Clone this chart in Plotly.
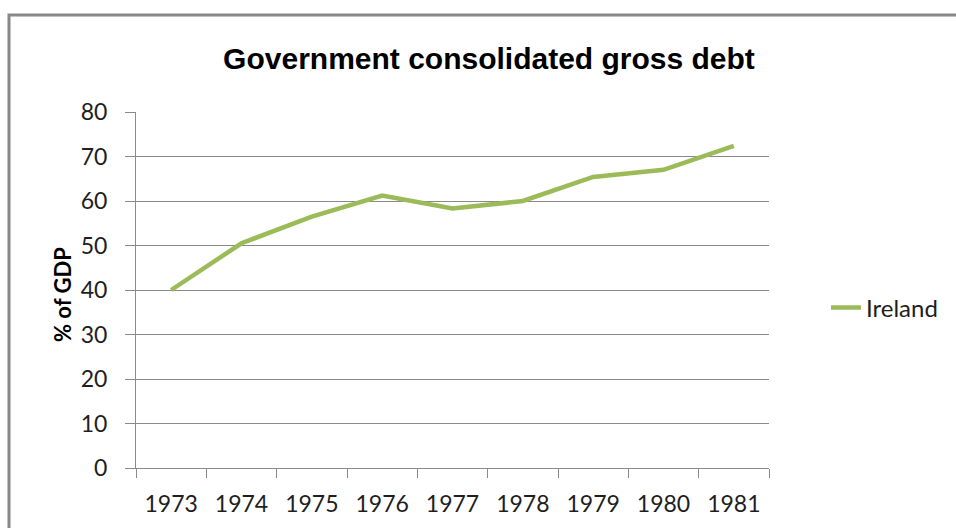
import plotly.graph_objects as go

# Government consolidated gross debt, Ireland (% of GDP)
years = ["1973", "1974", "1975", "1976", "1977", "1978", "1979", "1980", "1981"]
ireland_debt = [40.0, 50.5, 56.5, 61.2, 58.3, 60.0, 65.4, 67.0, 72.4]
y_ticks = [0, 10, 20, 30, 40, 50, 60, 70, 80]

W, H = 956, 528
L, R, T, B = 136, 187, 112, 60
plot_w = W - L - R
plot_h = H - T - B

def px_x(px):
    return (px - L) / plot_w

def px_y(py):
    return (H - B - py) / plot_h

axis_grey = "#8a8a8a"
text_col = "#1e1e1e"
body_family = "Lato, Carlito, Calibri, sans-serif"
tick_font = dict(family=body_family, size=23, color=text_col)

fig = go.Figure()
fig.add_trace(go.Scatter(
    x=years, y=ireland_debt, name="Ireland", mode="lines",
    line=dict(color="#9bbb59", width=4.5),
))

fig.update_layout(
    width=W, height=H,
    margin=dict(l=L, r=R, t=T, b=B),
    paper_bgcolor="white", plot_bgcolor="white",
    title=dict(
        text="<b>Government consolidated gross debt</b>",
        font=dict(family="Liberation Sans, Arial, sans-serif", size=30, color="black"),
        x=489 / W, xanchor="center", y=1 - 58 / H, yanchor="middle",
    ),
    xaxis=dict(
        type="category", showgrid=False, showline=True, linecolor=axis_grey, linewidth=1,
        ticks="outside", tickson="boundaries", ticklen=9, tickcolor=axis_grey,
        tickfont=tick_font, ticklabelstandoff=15, range=[-0.5, 8.5], fixedrange=True,
    ),
    yaxis=dict(
        range=[0, 80], tickvals=y_ticks, showgrid=True, gridcolor=axis_grey, gridwidth=1,
        showline=True, linecolor=axis_grey, linewidth=1, zeroline=False,
        ticks="outside", ticklen=10, tickcolor=axis_grey,
        tickfont=tick_font, ticklabelstandoff=13,
    ),
    showlegend=True,
    legend=dict(
        x=px_x(826), xanchor="left", y=px_y(308), yanchor="middle",
        font=dict(family=body_family, size=24, color=text_col),
        bgcolor="rgba(0,0,0,0)",
    ),
    annotations=[dict(
        text="<b>% of GDP</b>", textangle=-90, showarrow=False,
        xref="paper", yref="paper", x=px_x(62), y=px_y(295),
        xanchor="center", yanchor="middle",
        font=dict(family=body_family, size=22, color="black"),
    )],
    shapes=[dict(
        type="rect", xref="paper", yref="paper",
        x0=px_x(9), x1=px_x(1000), y0=px_y(560), y1=px_y(15),
        line=dict(color="#888888", width=3), fillcolor="rgba(0,0,0,0)", layer="below",
    )],
)

fig.write_html("out.html")
